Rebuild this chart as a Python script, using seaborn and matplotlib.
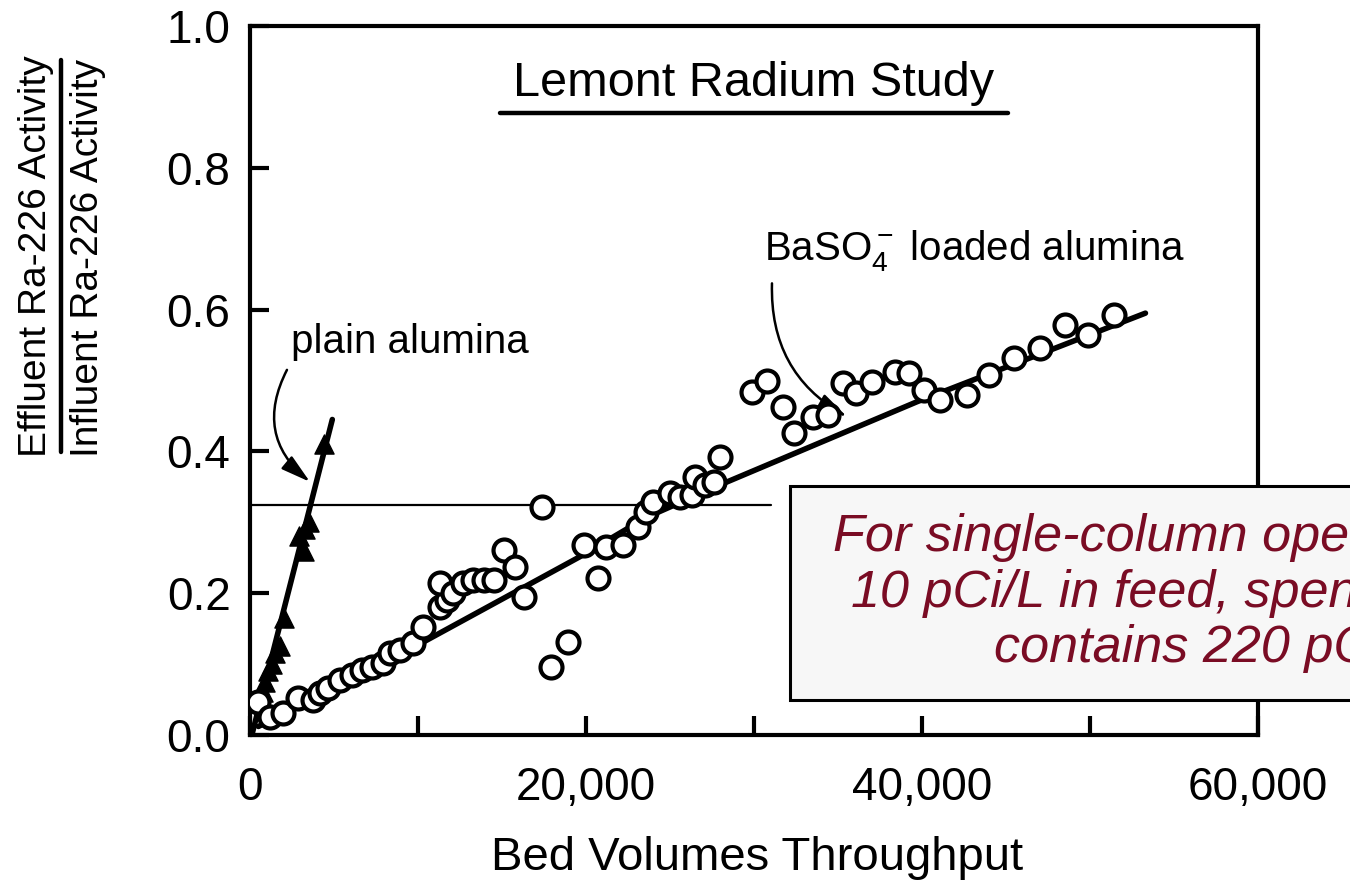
import matplotlib
matplotlib.use("Agg")
import matplotlib.pyplot as plt
import seaborn as sns
import pandas as pd
from matplotlib.patches import Rectangle
from matplotlib.lines import Line2D
from matplotlib.ticker import MultipleLocator

# ---------------- data ----------------
baso4_bv = [480, 1190, 1960, 2860, 3750, 4170, 4640, 5360, 6070, 6670,
            7260, 7920, 8330, 8930, 9700, 10300, 11300, 11700, 11300, 12100,
            12700, 13300, 13900, 14500, 15100, 15800, 16300, 17400, 17900, 18900,
            19900, 20700, 21200, 22200, 23100, 23600, 24000, 25000, 25600, 26300,
            26500, 27100, 27600, 28000, 29900, 30800, 31700, 32400, 33500, 34400,
            35300, 36100, 37000, 38400, 39200, 40100, 41100, 42700, 44000, 45500,
            47000, 48500, 49900, 51400]
baso4_ratio = [0.047, 0.025, 0.031, 0.052, 0.049, 0.059, 0.066, 0.078, 0.085, 0.092,
               0.096, 0.102, 0.116, 0.12, 0.13, 0.152, 0.181, 0.19, 0.214, 0.2,
               0.214, 0.219, 0.219, 0.219, 0.261, 0.237, 0.195, 0.322, 0.096, 0.131,
               0.268, 0.221, 0.265, 0.268, 0.293, 0.314, 0.329, 0.341, 0.336, 0.339,
               0.364, 0.353, 0.357, 0.392, 0.484, 0.50, 0.463, 0.426, 0.449, 0.451,
               0.496, 0.482, 0.498, 0.512, 0.51, 0.487, 0.472, 0.48, 0.508, 0.532,
               0.546, 0.578, 0.564, 0.592]

plain_bv = [700, 800, 900, 1100, 1300, 1500, 1800, 2000, 2900, 3200, 3300, 3500, 4400]
plain_ratio = [0.05, 0.06, 0.075, 0.09, 0.10, 0.115, 0.125, 0.165, 0.28, 0.26, 0.29, 0.30, 0.41]

plain_fit_bv = [110, 4900]
plain_fit_ratio = [0.0, 0.445]

baso4_fit_bv = [500, 10000, 19600, 23600, 28200, 39700, 53300]
baso4_fit_ratio = [0.012, 0.127, 0.251, 0.307, 0.355, 0.47, 0.595]

limit_bv = [0, 31000]
limit_ratio = [0.325, 0.325]

x_ticks = [0, 20000, 40000, 60000]
x_tick_labels = ["0", "20,000", "40,000", "60,000"]
y_ticks = [0.0, 0.2, 0.4, 0.6, 0.8, 1.0]
y_tick_labels = ["0.0", "0.2", "0.4", "0.6", "0.8", "1.0"]

title_text = "Lemont Radium Study"
xlabel_text = "Bed Volumes Throughput"
ylabel_top = "Effluent Ra-226 Activity"
ylabel_bottom = "Influent Ra-226 Activity"
plain_label = "plain alumina"
baso4_label = r"BaSO$_4^-$ loaded alumina"
note_lines = ["For single-column operation with",
              "10 pCi/L in feed, spent alumina",
              "contains 220 pCi/g"]

# ---------------- style ----------------
sns.set_theme(style="white")
plt.rcParams["font.family"] = ["Liberation Sans", "DejaVu Sans"]
plt.rcParams["mathtext.fontset"] = "custom"
plt.rcParams["mathtext.rm"] = "Liberation Sans"
plt.rcParams["mathtext.it"] = "Liberation Sans:italic"
plt.rcParams["text.color"] = "black"
plt.rcParams["xtick.color"] = "black"
plt.rcParams["ytick.color"] = "black"

W, H = 1350, 884
fig = plt.figure(figsize=(W / 100, H / 100), dpi=100)
fig.patch.set_facecolor("white")


def fx(px):
    return px / W


def fy(py):
    return 1 - py / H


ax = fig.add_axes([fx(250), fy(735), (1258 - 250) / W, (735 - 26) / H])
ax.set_facecolor("white")

baso4_df = pd.DataFrame({"bv": baso4_bv, "ratio": baso4_ratio})
plain_df = pd.DataFrame({"bv": plain_bv, "ratio": plain_ratio})

# horizontal reference line
sns.lineplot(x=limit_bv, y=limit_ratio, ax=ax, color="black", lw=1.6, zorder=2,
             sort=False, estimator=None)
# fitted lines
sns.lineplot(x=plain_fit_bv, y=plain_fit_ratio, ax=ax, color="black", lw=4.0,
             zorder=3, sort=False, estimator=None)
sns.lineplot(x=baso4_fit_bv, y=baso4_fit_ratio, ax=ax, color="black", lw=4.0,
             zorder=3, sort=False, estimator=None)
# points
sns.scatterplot(data=plain_df, x="bv", y="ratio", ax=ax, marker="^", s=190,
                color="black", edgecolor="black", linewidth=1, zorder=4)
sns.scatterplot(data=baso4_df, x="bv", y="ratio", ax=ax, marker="o", s=250,
                facecolor="white", edgecolor="black", linewidth=3.0, zorder=5)

ax.set_xlim(0, 60000)
ax.set_ylim(0, 1.0)
ax.set_xticks(x_ticks)
ax.set_xticklabels(x_tick_labels)
ax.xaxis.set_minor_locator(MultipleLocator(10000))
ax.set_yticks(y_ticks)
ax.set_yticklabels(y_tick_labels)
ax.set_xlabel("")
ax.set_ylabel("")
ax.tick_params(axis="both", which="both", direction="in", width=3, color="black",
               labelcolor="black", bottom=True, left=True, top=False, right=False)
ax.tick_params(axis="x", which="major", length=14, labelsize=33, pad=22)
ax.tick_params(axis="x", which="minor", length=14)
ax.tick_params(axis="y", which="major", length=14, labelsize=33, pad=14)
for sp in ax.spines.values():
    sp.set_visible(True)
    sp.set_color("black")
    sp.set_linewidth(3)

# title with underline
fig.text(fx(754), fy(83), title_text, ha="center", va="center", fontsize=35,
         color="black")
fig.add_artist(Line2D([fx(500), fx(1008)], [fy(113), fy(113)], color="black", lw=3.2))

# x label
fig.text(fx(757), fy(858), xlabel_text, ha="center", va="center", fontsize=34,
         color="black")

# y label as a fraction
fig.text(fx(36), fy(256), ylabel_top, ha="center", va="center", rotation=90,
         fontsize=28, color="black")
fig.text(fx(88), fy(258), ylabel_bottom, ha="center", va="center", rotation=90,
         fontsize=28, color="black")
fig.add_artist(Line2D([fx(61), fx(61)], [fy(60), fy(452)], color="black", lw=3.2))

# annotations
ax.text(9500, 0.554, plain_label, ha="center", va="center", fontsize=29,
        color="black")
ax.annotate("", xy=(3570, 0.357), xytext=(2200, 0.515),
            arrowprops=dict(arrowstyle="-|>,head_length=0.9,head_width=0.25",
                            connectionstyle="arc3,rad=0.4", lw=1.8,
                            color="black", mutation_scale=20, shrinkA=0, shrinkB=0))
ax.text(43150, 0.683, baso4_label, ha="center", va="center", fontsize=29,
        color="black")
ax.annotate("", xy=(35530, 0.449), xytext=(31070, 0.637),
            arrowprops=dict(arrowstyle="-|>,head_length=0.9,head_width=0.25",
                            connectionstyle="arc3,rad=0.3", lw=1.8,
                            color="black", mutation_scale=20, shrinkA=0, shrinkB=0))

# note box (extends beyond the figure edge, as in the reference)
fig.add_artist(Rectangle((fx(790), fy(700)), (1640 - 790) / W, (700 - 486) / H,
                         transform=fig.transFigure, facecolor="#f7f7f7",
                         edgecolor="black", lw=2.2, zorder=10))
fig.text(fx(1210), fy(593), "\n".join(note_lines), ha="center", va="center",
         multialignment="center", fontsize=37.5, style="italic",
         color="#7a0c24", linespacing=1.18, zorder=11)

fig.savefig("out.png", dpi=100)
